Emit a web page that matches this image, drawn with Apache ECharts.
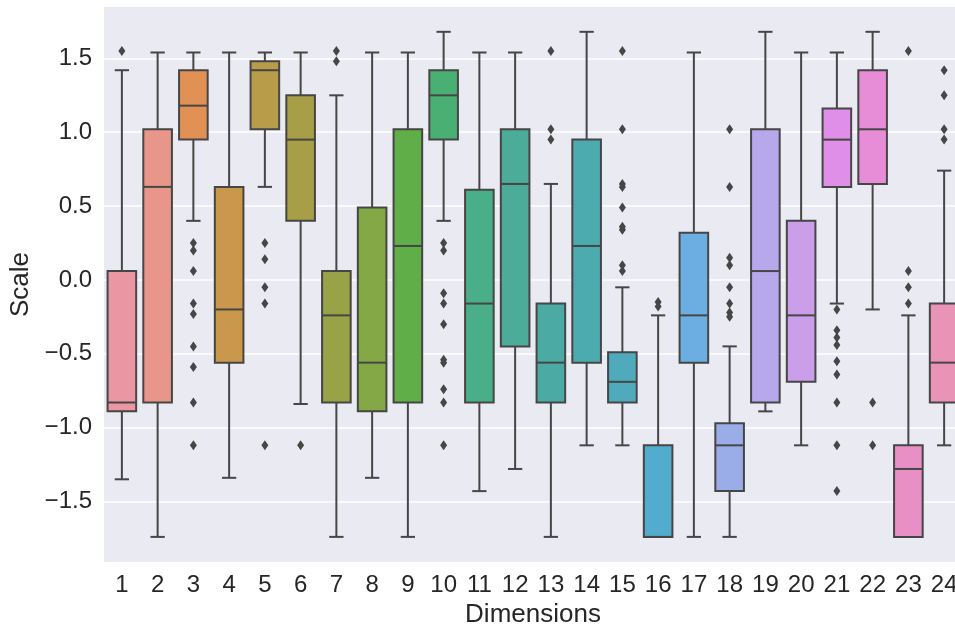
<!DOCTYPE html>
<html>
<head>
<meta charset="utf-8">
<script src="https://cdn.jsdelivr.net/npm/echarts@6/dist/echarts.min.js"></script>
<style>
  html, body { margin: 0; padding: 0; background: #ffffff; }
  #chart { width: 955px; height: 629px; }
</style>
</head>
<body>
<div id="chart"></div>
<script>
// ---- data: five-number summary per dimension, plus outliers ----
const dimensions = ['1','2','3','4','5','6','7','8','9','10','11','12',
                    '13','14','15','16','17','18','19','20','21','22','23','24'];

const whiskerLow  = [-1.35, -1.74,  0.40, -1.34,  0.63, -0.84, -1.74, -1.34, -1.74,  0.40, -1.43, -1.28,
                     -1.74, -1.12, -1.12, -1.74, -1.74, -1.74, -0.89, -1.12, -0.16, -0.20, -1.74, -1.12];
const quartile1   = [-0.89, -0.83,  0.95, -0.56,  1.02,  0.40, -0.83, -0.89, -0.83,  0.95, -0.83, -0.45,
                     -0.83, -0.56, -0.83, -1.74, -0.56, -1.43, -0.83, -0.69,  0.63,  0.65, -1.74, -0.83];
const medians     = [-0.83,  0.63,  1.18, -0.20,  1.42,  0.95, -0.24, -0.56,  0.23,  1.25, -0.16,  0.65,
                     -0.56,  0.23, -0.69, -1.74, -0.24, -1.12,  0.06, -0.24,  0.95,  1.02, -1.28, -0.56];
const quartile3   = [ 0.06,  1.02,  1.42,  0.63,  1.48,  1.25,  0.06,  0.49,  1.02,  1.42,  0.61,  1.02,
                     -0.16,  0.95, -0.49, -1.12,  0.32, -0.97,  1.02,  0.40,  1.16,  1.42, -1.12, -0.16];
const whiskerHigh = [ 1.42,  1.54,  1.54,  1.54,  1.54,  1.54,  1.25,  1.54,  1.54,  1.68,  1.54,  1.54,
                      0.65,  1.68, -0.05, -0.24,  1.54, -0.45,  1.68,  1.54,  1.54,  1.68, -0.24,  0.74];

const outliers = [
  [1.55],
  [],
  [0.25, 0.20, 0.06, -0.16, -0.23, -0.45, -0.59, -0.83, -1.12],
  [],
  [0.25, 0.14, -0.05, -0.16, -1.12],
  [-1.12],
  [1.55, 1.48],
  [],
  [],
  [0.25, 0.20, -0.09, -0.16, -0.30, -0.54, -0.56, -0.74, -0.83, -1.12],
  [],
  [],
  [1.55, 1.02, 0.95],
  [],
  [1.55, 1.02, 0.65, 0.63, 0.49, 0.36, 0.34, 0.10, 0.06],
  [-0.15, -0.18],
  [],
  [1.02, 0.63, 0.15, 0.10, -0.05, -0.16, -0.22, -0.25],
  [],
  [],
  [-0.20, -0.34, -0.39, -0.44, -0.55, -0.64, -0.83, -1.12, -1.43],
  [-0.83, -1.12],
  [1.55, 0.06, -0.05, -0.16],
  [1.42, 1.25, 1.02, 0.95]
];

const yTicks = [-1.5, -1.0, -0.5, 0.0, 0.5, 1.0, 1.5];

// ---- HUSL palette (evenly spaced hues), desaturated for large patches ----
const M = [[3.2406, -1.5372, -0.4986], [-0.9689, 1.8758, 0.0415], [0.0557, -0.2040, 1.0570]];
const REF_U = 0.19784, REF_V = 0.46834, KAPPA = 24389 / 27, EPS = 216 / 24389;

function maxChroma(L, H) {
  const hr = H * Math.PI / 180, sinH = Math.sin(hr), cosH = Math.cos(hr);
  const sub1 = Math.pow(L + 16, 3) / 1560896.0;
  const sub2 = sub1 > EPS ? sub1 : L / KAPPA;
  let result = Infinity;
  for (const [m1, m2, m3] of M) {
    const top = (0.99915 * m1 + 1.05122 * m2 + 1.14460 * m3) * sub2;
    const rb = 0.86330 * m3 - 0.17266 * m2;
    const lb = 0.12949 * m3 - 0.38848 * m1;
    const bottom = (rb * sinH + lb * cosH) * sub2;
    for (const t of [0, 1]) {
      const C = L * (top - 1.05122 * t) / (bottom + 0.17266 * sinH * t);
      if (C > 0 && C < result) result = C;
    }
  }
  return result;
}
function huslToRgb(H, S, L) {
  const C = maxChroma(L, H) / 100 * S;
  const hr = H * Math.PI / 180;
  const U = Math.cos(hr) * C, V = Math.sin(hr) * C;
  const t = (L + 16) / 116;
  const Y = Math.pow(t, 3) > EPS ? Math.pow(t, 3) : (116 * t - 16) / KAPPA;
  const vu = U / (13 * L) + REF_U, vv = V / (13 * L) + REF_V;
  const X = -(9 * Y * vu) / ((vu - 4) * vv - vu * vv);
  const Z = (9 * Y - 15 * vv * Y - vv * X) / (3 * vv);
  return M.map(r => {
    const c = r[0] * X + r[1] * Y + r[2] * Z;
    const v = c <= 0.0031308 ? 12.92 * c : 1.055 * Math.pow(c, 1 / 2.4) - 0.055;
    return Math.min(1, Math.max(0, v));
  });
}
function rgbToHls(r, g, b) {
  const mx = Math.max(r, g, b), mn = Math.min(r, g, b);
  const l = (mx + mn) / 2;
  if (mx === mn) return [0, l, 0];
  const s = l <= 0.5 ? (mx - mn) / (mx + mn) : (mx - mn) / (2 - mx - mn);
  const rc = (mx - r) / (mx - mn), gc = (mx - g) / (mx - mn), bc = (mx - b) / (mx - mn);
  let h = r === mx ? bc - gc : g === mx ? 2 + rc - bc : 4 + gc - rc;
  h = ((h / 6) % 1 + 1) % 1;
  return [h, l, s];
}
function hlsToRgb(h, l, s) {
  if (s === 0) return [l, l, l];
  const m2 = l <= 0.5 ? l * (1 + s) : l + s - l * s;
  const m1 = 2 * l - m2;
  const v = hue => {
    hue = ((hue % 1) + 1) % 1;
    if (hue < 1 / 6) return m1 + (m2 - m1) * hue * 6;
    if (hue < 0.5) return m2;
    if (hue < 2 / 3) return m1 + (m2 - m1) * (2 / 3 - hue) * 6;
    return m1;
  };
  return [v(h + 1 / 3), v(h), v(h - 1 / 3)];
}
const toHex = c => '#' + c.map(x => Math.round(x * 255).toString(16).padStart(2, '0')).join('');

const n = dimensions.length;
const rawColors = dimensions.map((_, i) => huslToRgb(((i / n + 0.01) % 1) * 359, 0.9 * 99, 0.7 * 99));
const boxColors = rawColors.map(c => {
  const [h, l, s] = rgbToHls(...c);
  return toHex(hlsToRgb(h, l, s * 0.75));
});
const lum = Math.min(...rawColors.map(c => rgbToHls(...c)[1])) * 0.6;
const EDGE = toHex([lum, lum, lum]);

// ---- series data built from the arrays above ----
const boxData = dimensions.map((_, i) =>
  [i, whiskerLow[i], quartile1[i], medians[i], quartile3[i], whiskerHigh[i]]);
const flierData = [];
outliers.forEach((vals, i) => vals.forEach(v => flierData.push([i, v])));

function renderBox(params, api) {
  const i = api.value(0);
  const at = k => api.coord([i, api.value(k)]);
  const lo = at(1), b1 = at(2), md = at(3), b3 = at(4), hi = at(5);
  const band = api.size([1, 0])[0];
  const bw = band * 0.8, cap = bw * 0.5;
  const cx = lo[0];
  const seg = (x1, y1, x2, y2) => ({
    type: 'line', shape: { x1, y1, x2, y2 },
    style: { stroke: EDGE, lineWidth: 2, lineCap: 'butt' }
  });
  return {
    type: 'group',
    children: [
      seg(cx, b3[1], cx, hi[1]),
      seg(cx, b1[1], cx, lo[1]),
      seg(cx - cap / 2, hi[1], cx + cap / 2, hi[1]),
      seg(cx - cap / 2, lo[1], cx + cap / 2, lo[1]),
      {
        type: 'rect',
        shape: { x: cx - bw / 2, y: b3[1], width: bw, height: b1[1] - b3[1] },
        style: { fill: boxColors[i], stroke: EDGE, lineWidth: 2 }
      },
      seg(cx - bw / 2, md[1], cx + bw / 2, md[1])
    ]
  };
}

const FONT = "'Liberation Sans', Arial, sans-serif";
const TEXT = '#262626';

const chart = echarts.init(document.getElementById('chart'), null, { renderer: 'canvas' });
chart.setOption({
  animation: false,
  backgroundColor: '#ffffff',
  grid: {
    left: 104, right: -7, top: 7, bottom: 67,
    outerBoundsMode: 'none', containLabel: false,
    backgroundColor: '#eaeaf2', show: true, borderWidth: 0
  },
  xAxis: {
    type: 'category',
    data: dimensions,
    boundaryGap: true,
    name: 'Dimensions',
    nameLocation: 'middle',
    nameGap: 37,
    nameTextStyle: { fontFamily: FONT, fontSize: 26, color: TEXT },
    axisLine: { show: false },
    axisTick: { show: false },
    splitLine: { show: false },
    axisLabel: { fontFamily: FONT, fontSize: 24, color: TEXT, margin: 11, interval: 0 }
  },
  yAxis: {
    type: 'value',
    min: -1.91,
    max: 1.848,
    name: 'Scale',
    nameLocation: 'middle',
    nameGap: 69,
    nameTextStyle: { fontFamily: FONT, fontSize: 26, color: TEXT },
    axisLine: { show: false },
    axisTick: { show: false, customValues: yTicks },
    splitLine: { show: true, lineStyle: { color: '#ffffff', width: 1.5 } },
    axisLabel: {
      customValues: yTicks,
      fontFamily: FONT, fontSize: 24, color: TEXT, margin: 12,
      formatter: v => (v < 0 ? '\u2212' : '') + Math.abs(v).toFixed(1)
    }
  },
  series: [
    {
      type: 'custom',
      renderItem: renderBox,
      data: boxData,
      encode: { x: 0, y: [1, 2, 3, 4, 5] },
      clip: false,
      z: 2
    },
    {
      type: 'scatter',
      data: flierData,
      symbol: 'diamond',
      symbolSize: [7, 10],
      itemStyle: { color: EDGE, opacity: 1 },
      z: 3
    }
  ]
});
</script>
</body>
</html>
